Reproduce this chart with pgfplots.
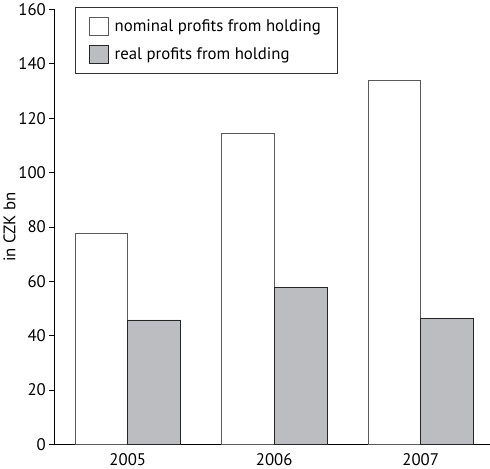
\documentclass[border=0pt]{standalone}
\usepackage{pgfplots}
\pgfplotsset{compat=1.18}
\usepackage{fontspec}
\setmainfont{PT Sans}
\definecolor{realgray}{RGB}{188,189,193}
\definecolor{edgegray}{RGB}{90,90,90}
\begin{document}
\begin{tikzpicture}
\begin{axis}[
  scale only axis,
  width=428pt, height=428pt,
  font=\fontsize{16.5}{19}\selectfont,
  /pgf/number format/assume math mode=true,
  ybar=0pt, bar width=0.36,
  xmin=-0.5, xmax=2.47,
  ymin=0, ymax=160,
  axis x line=bottom, axis y line=left,
  axis line style={-, line width=0.9pt, black},
  xtick={0,1,2}, xticklabels={2005,2006,2007},
  xtick style={draw=none},
  ytick={0,20,...,160},
  ytick style={line width=0.9pt, black},
  tick align=outside, major tick length=5pt,
  ylabel={in CZK bn},
  ylabel style={yshift=-4pt},
  legend style={at={(20/428,1.005)}, anchor=north west, draw=black!80, line width=0.8pt,
    font=\fontsize{16.5}{19}\selectfont, row sep=9pt, inner xsep=14pt, inner ysep=9pt,
    cells={anchor=west}},
  legend image code/.code={\draw[#1, line width=0.8pt] (0pt,-9pt) rectangle (18pt,9pt); \path (22pt,0pt);},
]
\addplot[fill=white, draw=edgegray, line width=0.8pt] coordinates {(0,77.8) (1,114.4) (2,134.0)};
\addplot[fill=realgray, draw=black!85, line width=0.8pt] coordinates {(0,45.8) (1,57.9) (2,46.4)};
\legend{nominal profits from holding, real profits from holding}
\end{axis}
\end{tikzpicture}
\end{document}
